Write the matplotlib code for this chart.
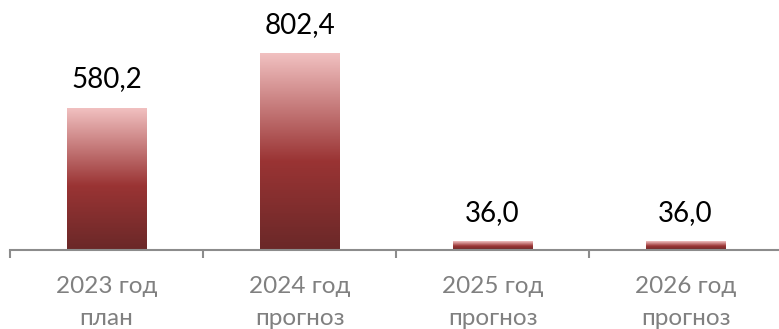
import numpy as np
import matplotlib
matplotlib.use('Agg')
import matplotlib.pyplot as plt
from matplotlib.colors import LinearSegmentedColormap
from matplotlib.patches import Rectangle

categories = ['2023 год\nплан', '2024 год\nпрогноз', '2025 год\nпрогноз', '2026 год\nпрогноз']
values = [580.2, 802.4, 36.0, 36.0]
labels = ['580,2', '802,4', '36,0', '36,0']

plt.rcParams['font.family'] = ['Lato', 'DejaVu Sans']

fig = plt.figure(figsize=(7.79, 3.29), dpi=100)
ax = fig.add_axes([10 / 779, 79 / 329, 772 / 779, 250 / 329])

# gradient: dark at bottom -> red -> pink top
cmap = LinearSegmentedColormap.from_list('bar', [
    (0.0, '#6a2828'), (0.45, '#9a3434'), (1.0, '#f2c2c2')])
grad = np.linspace(0, 1, 256).reshape(-1, 1)

width = 0.41
x = np.arange(len(values))
bars = ax.bar(x, values, width=width, color='none', edgecolor='none')
for b in bars:
    x0, y0 = b.get_x(), b.get_y()
    w, h = b.get_width(), b.get_height()
    im = ax.imshow(grad, cmap=cmap, origin='lower', aspect='auto',
                   extent=[x0, x0 + w, y0, y0 + h], zorder=2)
    im.set_clip_path(Rectangle((x0, y0), w, h, transform=ax.transData))

for xi, v, lab in zip(x, values, labels):
    ax.annotate(lab, (xi, v), xytext=(0, 11), textcoords='offset points',
                ha='center', va='bottom', fontsize=20, color='black')

ax.set_xlim(-0.5, 3.5)
ax.set_ylim(0, 1018)

for s in ['top', 'right', 'left']:
    ax.spines[s].set_visible(False)
ax.spines['bottom'].set_color('#8c8c8c')
ax.spines['bottom'].set_linewidth(1.5)
ax.set_yticks([])

ax.set_xticks(x)
ax.set_xticklabels(categories, fontsize=17.5, color='#808080', linespacing=1.65)
ax.tick_params(axis='x', which='major', length=0, pad=19)
ax.set_xticks(np.arange(-0.5, 4, 1), minor=True)
ax.tick_params(axis='x', which='minor', length=6, width=1.5, color='#8c8c8c')

fig.savefig('out.png', dpi=100)
